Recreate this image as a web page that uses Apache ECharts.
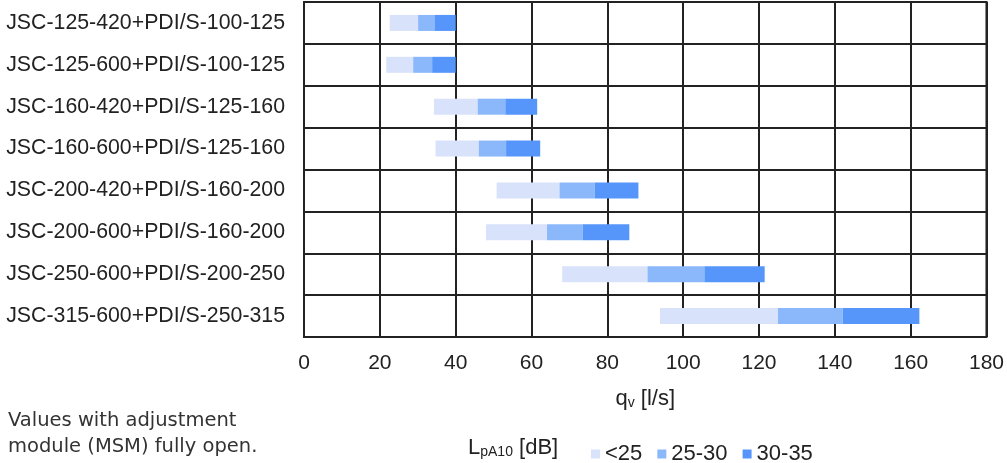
<!DOCTYPE html>
<html><head><meta charset="utf-8">
<script src="https://cdn.jsdelivr.net/npm/echarts@6/dist/echarts.min.js"></script>
<style>html,body{margin:0;padding:0;background:#fff}#c{width:1007px;height:463px}</style>
</head><body><div id="c"></div>
<script>
var categories = [
  'JSC-125-420+PDI/S-100-125',
  'JSC-125-600+PDI/S-100-125',
  'JSC-160-420+PDI/S-125-160',
  'JSC-160-600+PDI/S-125-160',
  'JSC-200-420+PDI/S-160-200',
  'JSC-200-600+PDI/S-160-200',
  'JSC-250-600+PDI/S-200-250',
  'JSC-315-600+PDI/S-250-315'
];
// flow rate [l/s] where each noise band starts / ends
var rangeStart = [22.6, 21.7, 34.3, 34.7, 50.8, 48.0, 68.1, 93.9];
var limit25    = [30.1, 28.8, 45.8, 46.1, 67.4, 64.1, 90.6, 125.0];
var limit30    = [34.4, 33.8, 53.1, 53.3, 76.7, 73.5, 105.6, 142.1];
var rangeEnd   = [40.0, 40.0, 61.5, 62.3, 88.2, 85.8, 121.5, 162.3];
var bandNames = ['<25', '25-30', '30-35'];
var xTicks = [0, 20, 40, 60, 80, 100, 120, 140, 160, 180];

var colors = ['#d9e2fb', '#8ab8fb', '#5696fb'];
function diff(a, b) { return a.map(function (v, i) { return +(b[i] - v).toFixed(2); }); }
var segs = [diff(rangeStart, limit25), diff(limit25, limit30), diff(limit30, rangeEnd)];

var chart = echarts.init(document.getElementById('c'));
var font = '"Liberation Sans", Arial, sans-serif';
var series = [{
  name: 'base', type: 'bar', stack: 'q', data: rangeStart, barWidth: 16,
  itemStyle: { color: 'transparent' }, silent: true
}];
bandNames.forEach(function (n, i) {
  series.push({ name: n, type: 'bar', stack: 'q', data: segs[i], barWidth: 16,
    itemStyle: { color: colors[i] } });
});

chart.setOption({
  animation: false,
  textStyle: { fontFamily: font },
  grid: { left: 304, right: 17, top: 2, bottom: 126, show: true, borderColor: '#222', borderWidth: 2, containLabel: false },
  xAxis: {
    type: 'value', min: xTicks[0], max: xTicks[xTicks.length - 1], interval: xTicks[1] - xTicks[0],
    axisLine: { show: false }, axisTick: { show: false },
    splitLine: { show: true, lineStyle: { color: '#222', width: 2 } },
    axisLabel: { color: '#222', fontSize: 21, margin: 16, fontFamily: font },
    name: '{m|q}{s|v}{m| [l/s]}', nameLocation: 'middle', nameGap: 50,
    nameTextStyle: { rich: {
      m: { fontSize: 22, color: '#222', fontFamily: font },
      s: { fontSize: 14, color: '#222', fontFamily: font, verticalAlign: 'bottom', padding: [9, 0, 0, 0] }
    } }
  },
  yAxis: {
    type: 'category', data: categories, inverse: true,
    axisLine: { show: false }, axisTick: { show: false },
    splitLine: { show: true, lineStyle: { color: '#222', width: 2 } },
    axisLabel: { color: '#222', fontSize: 21.3, margin: 19, fontFamily: font }
  },
  legend: {
    data: bandNames, left: 586, top: 438, icon: 'rect', itemWidth: 9, itemHeight: 9, itemGap: 15,
    textStyle: { fontSize: 22, color: '#222', fontFamily: font }
  },
  graphic: [
    { type: 'text', left: 468, top: 437, style: {
      text: '{m|L}{s|pA10}{m| [dB]}',
      rich: {
        m: { fontSize: 22, fill: '#222', fontFamily: font },
        s: { fontSize: 14, fill: '#222', fontFamily: font, verticalAlign: 'bottom', padding: [9, 0, 0, 0] }
      } } },
    { type: 'text', left: 8, top: 408, style: {
      text: 'Values with adjustment\nmodule (MSM) fully open.', fontSize: 19.5, lineHeight: 26,
      fill: '#333', fontFamily: '"DejaVu Sans", sans-serif' } }
  ],
  series: series
});
</script></body></html>
